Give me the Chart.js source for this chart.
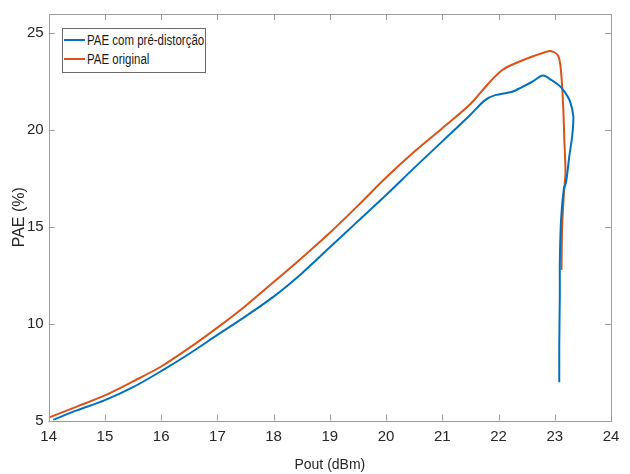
<!DOCTYPE html>
<html>
<head>
<meta charset="utf-8">
<script src="https://cdn.jsdelivr.net/npm/chart.js@4.4.1/dist/chart.umd.min.js"></script>
<style>
  body { margin: 0; background: #fff; }
  #wrap { position: relative; width: 630px; height: 474px; }
  #legend-container {
    position: absolute; left: 62px; top: 28px; width: 142px; height: 43px;
    border: 1px solid #6a6a6a; background: #fff;
    font-family: 'Liberation Sans', Arial, sans-serif;
    font-size: 14px; color: #1a1a1a;
  }
  .legend-item { position: absolute; left: 0; height: 18px; line-height: 18px; white-space: nowrap; }
  .legend-color-box { position: absolute; left: 1px; top: 8px; width: 21px; height: 2px; }
  .legend-text { position: absolute; left: 24px; top: 0; transform: scaleX(0.82); transform-origin: 0 50%; }
</style>
</head>
<body>
<div id="wrap">
  <canvas id="paeChart" width="630" height="474"></canvas>
  <div id="legend-container"></div>
</div>
<script>
// dados
const poutPre = [14.08, 14.5, 15.0, 15.5, 16.0, 16.5, 17.0, 17.5, 18.0, 18.5, 19.0, 19.5, 20.0, 20.5, 21.0, 21.5, 21.76, 21.94, 22.24, 22.4, 22.6, 22.79, 22.95, 23.08, 23.17, 23.27, 23.33, 23.31, 23.26, 23.2, 23.16, 23.11, 23.09, 23.09, 23.08, 23.08];
const paePre  = [5.03, 5.52, 6.05, 6.72, 7.55, 8.45, 9.42, 10.38, 11.4, 12.6, 13.95, 15.3, 16.65, 18.05, 19.42, 20.8, 21.55, 21.81, 21.98, 22.2, 22.5, 22.82, 22.57, 22.3, 22.0, 21.49, 20.72, 19.7, 18.68, 17.3, 16.94, 15.25, 13.2, 11.5, 9.0, 6.97];

const poutOrig = [14.0, 14.5, 15.0, 15.5, 16.0, 16.5, 17.0, 17.5, 18.0, 18.5, 19.0, 19.5, 20.0, 20.5, 21.0, 21.5, 21.82, 22.06, 22.24, 22.59, 22.8, 22.93, 23.06, 23.11, 23.15, 23.17, 23.19, 23.16, 23.13, 23.12];
const paeOrig  = [5.15, 5.72, 6.30, 7.02, 7.79, 8.75, 9.80, 10.92, 12.15, 13.4, 14.7, 16.1, 17.55, 18.88, 20.1, 21.35, 22.41, 23.09, 23.38, 23.79, 24.0, 24.09, 23.84, 23.07, 21.23, 19.5, 17.8, 16.6, 14.9, 12.78];

const seriesNames = ['PAE com pré-distorção', 'PAE original'];
const xTicksMin = 14, xTicksMax = 24;
const yTicksMin = 5, yTicksMax = 26;

const FONT = "'Liberation Sans', Arial, sans-serif";
const AXIS_GREY = '#9c9c9c';

function toPoints(xs, ys) {
    return xs.map((x, i) => ({ x: x, y: ys[i] }));
}

// caixa + marcas para dentro, estilo MATLAB
const boxTicks = {
    id: 'boxTicks',
    afterDatasetsDraw(chart) {
        const { ctx, chartArea: a, scales } = chart;
        const len = 6;
        ctx.save();
        ctx.strokeStyle = AXIS_GREY;
        ctx.lineWidth = 1;
        ctx.beginPath();
        scales.x.ticks.forEach(t => {
            const px = Math.round(scales.x.getPixelForValue(t.value)) + 0.5;
            ctx.moveTo(px, a.bottom); ctx.lineTo(px, a.bottom - len);
            ctx.moveTo(px, a.top); ctx.lineTo(px, a.top + len);
        });
        scales.y.ticks.forEach(t => {
            const py = Math.round(scales.y.getPixelForValue(t.value)) + 0.5;
            ctx.moveTo(a.left, py); ctx.lineTo(a.left + len, py);
            ctx.moveTo(a.right, py); ctx.lineTo(a.right - len, py);
        });
        ctx.stroke();
        ctx.strokeRect(Math.round(a.left) + 0.5, Math.round(a.top) + 0.5,
            Math.round(a.right - a.left), Math.round(a.bottom - a.top));
        ctx.restore();
    }
};

const myChart = new Chart(document.getElementById('paeChart'), {
    type: 'scatter',
    data: {
        datasets: [
            {
                label: seriesNames[0],
                data: toPoints(poutPre, paePre),
                borderColor: '#0072BD',
                backgroundColor: '#0072BD'
            },
            {
                label: seriesNames[1],
                data: toPoints(poutOrig, paeOrig),
                borderColor: '#D95319',
                backgroundColor: '#D95319'
            }
        ]
    },
    options: {
        responsive: false,
        animation: false,
        devicePixelRatio: 1,
        showLine: true,
        elements: {
            point: { radius: 0 },
            line: { borderWidth: 2, tension: 0.3 }
        },
        layout: { padding: { top: 9, right: 19, left: 0, bottom: 0 } },
        plugins: {
            legend: { display: false },
            tooltip: { enabled: false }
        },
        scales: {
            x: {
                type: 'linear',
                min: xTicksMin,
                max: xTicksMax,
                grid: { display: false, drawTicks: false },
                border: { display: false },
                ticks: {
                    stepSize: 1,
                    includeBounds: false,
                    padding: 7,
                    color: '#262626',
                    font: { family: FONT, size: 15 }
                },
                title: {
                    display: true,
                    text: 'Pout (dBm)',
                    color: '#262626',
                    font: { family: FONT, size: 14 },
                    padding: { top: 0, bottom: 0 }
                },
                afterFit: s => { s.height = 53.5; }
            },
            y: {
                type: 'linear',
                min: yTicksMin,
                max: yTicksMax,
                grid: { display: false, drawTicks: false },
                border: { display: false },
                ticks: {
                    stepSize: 5,
                    includeBounds: false,
                    padding: 5,
                    color: '#262626',
                    font: { family: FONT, size: 15 }
                },
                title: {
                    display: true,
                    text: 'PAE (%)',
                    color: '#262626',
                    font: { family: FONT, size: 16 },
                    padding: { top: 10, bottom: 0 }
                },
                afterFit: s => { s.width = 48.7; }
            }
        }
    },
    plugins: [boxTicks]
});

generateHtmlLegend(myChart);

function generateHtmlLegend(chart) {
    const legendContainer = document.getElementById('legend-container');
    legendContainer.innerHTML = '';
    const rowTops = [2, 21];
    chart.data.datasets.forEach((ds, index) => {
        const div = document.createElement('div');
        div.classList.add('legend-item');
        div.style.top = rowTops[index] + 'px';
        const colorBox = document.createElement('span');
        colorBox.classList.add('legend-color-box');
        colorBox.style.backgroundColor = ds.borderColor;
        const text = document.createElement('span');
        text.classList.add('legend-text');
        text.textContent = ds.label;
        div.appendChild(colorBox);
        div.appendChild(text);
        legendContainer.appendChild(div);
    });
}
</script>
</body>
</html>
